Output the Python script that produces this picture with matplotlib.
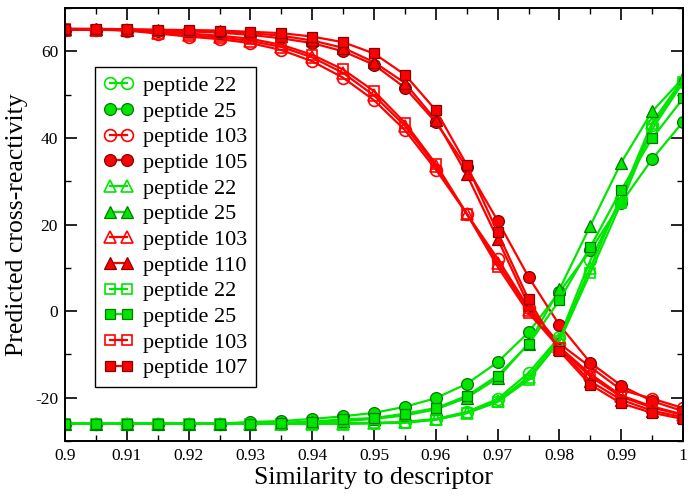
import matplotlib
matplotlib.use("Agg")
import matplotlib.pyplot as plt
from matplotlib.ticker import MultipleLocator, FuncFormatter

plt.rcParams['font.family'] = ['Liberation Serif', 'DejaVu Serif']
plt.rcParams['axes.unicode_minus'] = False

x = [0.9, 0.905, 0.91, 0.915, 0.92, 0.925, 0.93, 0.935, 0.94, 0.945, 0.95,
     0.955, 0.96, 0.965, 0.97, 0.975, 0.98, 0.985, 0.99, 0.995, 1.0]

g22_circle = [-26, -26, -26, -26, -26, -26, -26, -26, -26, -25.9, -25.8,
              -25.6, -24.9, -23.3, -20.3, -14.3, -6.0, 11.7, 26.0, 43.0, 53.0]
g25_circle = [-26, -26, -26, -26, -26, -26, -25.6, -25.4, -24.9, -24.3, -23.5,
              -22.1, -20.1, -16.8, -11.8, -4.9, 4.4, 14.0, 25.0, 35.1, 43.7]
r103_circle = [65, 65, 64.8, 64.1, 63.4, 62.8, 61.9, 60.3, 57.7, 53.9, 48.7,
               41.8, 32.7, 22.5, 12.1, 0.8, -7.5, -12.9, -18.2, -20.2, -22.4]
r105_circle = [65, 65, 64.9, 64.8, 64.6, 64.3, 63.8, 63.0, 61.9, 60.0, 56.9,
               51.6, 43.6, 33.2, 20.9, 7.9, -3.2, -11.9, -17.2, -20.8, -23.1]
g22_tri = [-26, -26, -26, -26, -26, -26, -26, -26, -26, -26, -25.9,
           -25.7, -25.0, -23.5, -20.8, -15.2, -6.5, 10.0, 26.5, 43.5, 53.6]
g25_tri = [-26, -26, -26, -26, -26, -26, -26, -25.9, -25.7, -25.4, -24.9,
           -24.1, -22.7, -20.0, -15.5, -7.5, 5.0, 19.7, 34.3, 46.1, 53.8]
r103_tri = [65, 65, 64.9, 64.3, 63.7, 63.2, 62.4, 61.0, 58.6, 55.0, 49.8,
            42.8, 33.4, 22.5, 11.2, 0.3, -8.3, -14.5, -19.5, -22.0, -23.9]
r110_tri = [65.2, 65.1, 65, 64.9, 64.8, 64.6, 64.2, 63.6, 62.5, 60.8, 57.5,
            52.7, 44.1, 31.6, 16.7, 1.4, -8.7, -16.2, -20.5, -23.0, -24.5]
g22_square = [-26, -26, -26, -26, -26, -26, -26, -26, -26, -26, -25.9,
              -25.8, -25.1, -23.6, -21.0, -15.9, -7.0, 8.8, 25.0, 42.0, 52.8]
g25_square = [-26, -26, -26, -26, -26, -26, -26, -25.8, -25.5, -25.0, -24.7,
              -23.7, -22.4, -19.6, -14.9, -7.7, 2.5, 14.8, 28.0, 39.9, 49.1]
r103_square = [65.1, 65, 64.9, 64.6, 64.1, 63.6, 62.9, 61.5, 59.2, 55.8, 50.8,
               43.5, 34.0, 22.5, 10.3, -0.4, -8.5, -15.1, -19.8, -22.3, -24.0]
r107_square = [65.2, 65.2, 65.1, 65.0, 64.9, 64.8, 64.5, 64.2, 63.4, 62.1, 59.5,
               54.6, 46.4, 33.8, 18.2, 2.7, -9.2, -17.0, -21.3, -23.5, -24.9]

labels = ["peptide 22", "peptide 25", "peptide 103", "peptide 105",
          "peptide 22", "peptide 25", "peptide 103", "peptide 110",
          "peptide 22", "peptide 25", "peptide 103", "peptide 107"]
series = [g22_circle, g25_circle, r103_circle, r105_circle,
          g22_tri, g25_tri, r103_tri, r110_tri,
          g22_square, g25_square, r103_square, r107_square]

GREEN = '#00e600'
RED = '#ff0000'
GREEN_EDGE = '#007a00'
RED_EDGE = '#8a0000'
markers = ['o'] * 4 + ['^'] * 4 + ['s'] * 4
colors = [GREEN, GREEN, RED, RED] * 3
filled = [False, True] * 6
sizes = {'o': 8.5, '^': 8.5, 's': 7.5}

fig = plt.figure(figsize=(6.98, 4.96), dpi=100)
ax = fig.add_axes([65 / 698, 1 - 441 / 496, 618 / 698, 433 / 496])

for y, lab, m, c, f in zip(series, labels, markers, colors, filled):
    if f:
        ec = GREEN_EDGE if c == GREEN else RED_EDGE
        ax.plot(x, y, color=c, lw=1.6, marker=m, ms=sizes[m],
                markerfacecolor=c, markeredgecolor=ec, markeredgewidth=0.9,
                label=lab)
    else:
        ax.plot(x, y, color=c, lw=1.6, marker=m, ms=sizes[m],
                markerfacecolor='none', markeredgecolor=c, markeredgewidth=1.2,
                label=lab)

ax.set_xlim(0.9, 1.0)
ax.set_ylim(-30, 70)
ax.xaxis.set_major_locator(MultipleLocator(0.01))
ax.xaxis.set_minor_locator(MultipleLocator(0.005))
ax.yaxis.set_major_locator(MultipleLocator(20))
ax.yaxis.set_minor_locator(MultipleLocator(10))
ax.xaxis.set_major_formatter(FuncFormatter(lambda v, p: ('%.2f' % v).rstrip('0').rstrip('.')))
ax.yaxis.set_major_formatter(FuncFormatter(lambda v, p: '%d' % round(v)))
ax.tick_params(which='both', direction='in', top=True, right=True, labelsize=12.5)
ax.tick_params(which='major', length=8.5, width=1.2)
ax.tick_params(which='minor', length=4.5, width=1.0)
ax.tick_params(axis='x', which='major', pad=5)
ax.tick_params(axis='y', which='major', pad=5)
for s in ax.spines.values():
    s.set_linewidth(1.4)

ax.set_xlabel("Similarity to descriptor", fontsize=18.5, labelpad=2)
ax.set_ylabel("Predicted cross-reactivity", fontsize=18.5, labelpad=5)

leg = ax.legend(loc='upper left', bbox_to_anchor=(30 / 618, (441 - 67) / 433),
                borderaxespad=0, fontsize=16, numpoints=2, handlelength=1.36,
                handletextpad=0.42, labelspacing=0.23, borderpad=0.38,
                fancybox=False, framealpha=1, edgecolor='black')
leg.get_frame().set_linewidth(1.0)

fig.savefig("out.png", dpi=100)
